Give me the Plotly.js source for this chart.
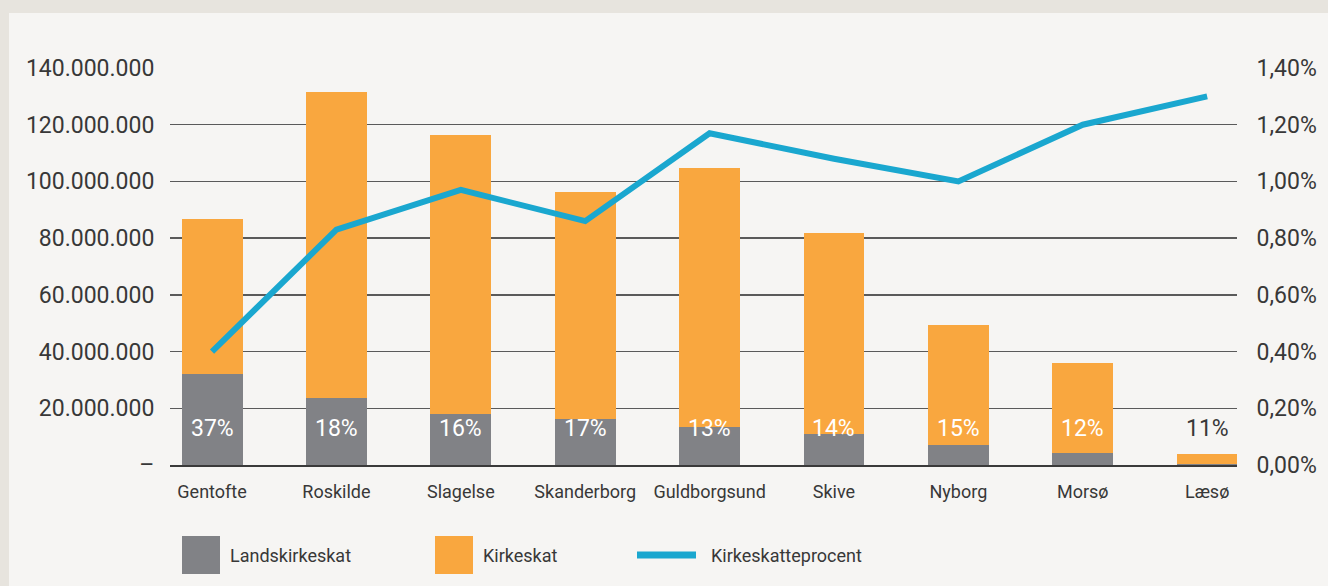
<!DOCTYPE html>
<html>
<head>
<meta charset="utf-8">
<script src="https://cdn.plot.ly/plotly-3.0.1.min.js"></script>
<style>
  html, body { margin: 0; padding: 0; background: #e7e4de; }
  #wrap { position: absolute; left: 9px; top: 13px; width: 1319px; height: 573px; background: #f6f5f3; }
  #chart { width: 1319px; height: 573px; }
</style>
</head>
<body>
<div id="wrap"><div id="chart"></div></div>
<script>
// ---- data ----
const municipalities = ["Gentofte", "Roskilde", "Slagelse", "Skanderborg", "Guldborgsund", "Skive", "Nyborg", "Morsø", "Læsø"];
const landskirkeskat = [32.1e6, 23.5e6, 18.0e6, 16.3e6, 13.5e6, 11.0e6, 7.0e6, 4.2e6, 0.3e6];
const kirkeskat = [54.6e6, 108.0e6, 98.4e6, 80.0e6, 91.2e6, 70.8e6, 42.4e6, 31.8e6, 3.6e6];
const kirkeskatteprocent = [0.0040, 0.0083, 0.0097, 0.0086, 0.0117, 0.0108, 0.0100, 0.0120, 0.0130];
const shareLabels = ["37%", "18%", "16%", "17%", "13%", "14%", "15%", "12%", "11%"];
const seriesNames = ["Landskirkeskat", "Kirkeskat", "Kirkeskatteprocent"];
const leftTickVals = [0, 20e6, 40e6, 60e6, 80e6, 100e6, 120e6, 140e6];
const leftTickText = ["–", "20.000.000", "40.000.000", "60.000.000", "80.000.000", "100.000.000", "120.000.000", "140.000.000"];
const rightTickVals = [0, 0.002, 0.004, 0.006, 0.008, 0.010, 0.012, 0.014];

// ---- style ----
const GRAY = "#818286", ORANGE = "#f9a73f", BLUE = "#1aa7cf", TEXT = "#383838";
const FONT = "Roboto, 'DejaVu Sans', sans-serif";
const W = 1319, H = 573;
const M = { l: 161, r: 91, t: 55, b: 121 };
const PW = W - M.l - M.r, PH = H - M.t - M.b;
// page pixel -> paper coords (page offset 9,13)
const px = x => (x - 9 - M.l) / PW;
const py = y => (H - M.b - (y - 13)) / PH;

const traces = [
  { type: "bar", name: seriesNames[0], x: municipalities, y: landskirkeskat, marker: { color: GRAY }, width: 0.49, showlegend: false, hoverinfo: "x+y" },
  { type: "bar", name: seriesNames[1], x: municipalities, y: kirkeskat, marker: { color: ORANGE }, width: 0.49, showlegend: false, hoverinfo: "x+y" },
  { type: "scatter", mode: "lines", name: seriesNames[2], x: municipalities, y: kirkeskatteprocent, yaxis: "y2",
    line: { color: BLUE, width: 6 }, showlegend: false }
];

const annotations = municipalities.map((m, i) => ({
  x: m, y: 13e6, xref: "x", yref: "y", text: shareLabels[i], showarrow: false,
  font: { family: FONT, size: 23, color: i === municipalities.length - 1 ? TEXT : "#ffffff" },
  xanchor: "center", yanchor: "middle"
}));

// custom legend
const legendShapes = [
  { type: "rect", xref: "paper", yref: "paper", x0: px(182), x1: px(220), y0: py(574), y1: py(536), fillcolor: GRAY, line: { width: 0 } },
  { type: "rect", xref: "paper", yref: "paper", x0: px(435), x1: px(473), y0: py(574), y1: py(536), fillcolor: ORANGE, line: { width: 0 } },
  { type: "line", xref: "paper", yref: "paper", x0: px(637), x1: px(696), y0: py(555), y1: py(555), line: { color: BLUE, width: 7 } }
];
const legendX = [228, 481, 709];
seriesNames.forEach((n, i) => annotations.push({
  xref: "paper", yref: "paper", x: px(legendX[i]), y: py(555), text: n, showarrow: false,
  xanchor: "left", yanchor: "middle", font: { family: FONT, size: 18, color: TEXT }
}));

const layout = {
  width: W, height: H,
  margin: M,
  paper_bgcolor: "#f6f5f3", plot_bgcolor: "#f6f5f3",
  separators: ",.",
  barmode: "stack",
  showlegend: false,
  font: { family: FONT, color: TEXT },
  xaxis: {
    type: "category", range: [-0.338, 8.24], showgrid: false, zeroline: false,
    showline: true, linecolor: "#3a3a3a", linewidth: 2,
    ticks: "outside", ticklen: 9, tickcolor: "rgba(0,0,0,0)",
    tickfont: { family: FONT, size: 18, color: TEXT }, fixedrange: true
  },
  yaxis: {
    range: [0, 140e6], tickvals: leftTickVals, ticktext: leftTickText,
    showgrid: true, gridcolor: "#5a5a5a", gridwidth: 1.4, zeroline: false, showline: false,
    ticks: "outside", ticklen: 10, tickcolor: "rgba(0,0,0,0)",
    tickfont: { family: FONT, size: 23, color: TEXT }, fixedrange: true
  },
  yaxis2: {
    overlaying: "y", side: "right", range: [0, 0.014], tickvals: rightTickVals, tickformat: ".2%",
    showgrid: false, zeroline: false, showline: false,
    ticks: "outside", ticklen: 14, tickcolor: "rgba(0,0,0,0)",
    tickfont: { family: FONT, size: 23, color: TEXT }, fixedrange: true
  },
  annotations: annotations,
  shapes: legendShapes
};

Plotly.newPlot("chart", traces, layout, { displayModeBar: false, staticPlot: true });
</script>
</body>
</html>
